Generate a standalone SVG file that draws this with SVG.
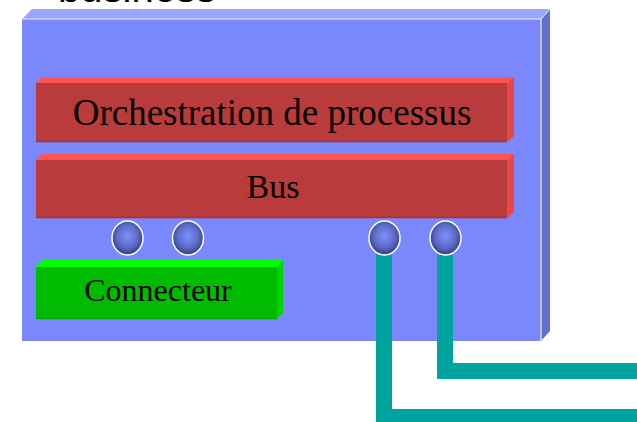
<svg xmlns="http://www.w3.org/2000/svg" width="637" height="422" viewBox="0 0 637 422">
<style>
.serif{font-family:"Liberation Serif","Times New Roman",serif;fill:#000}
.sans{font-family:"Liberation Sans",Arial,sans-serif;fill:#000}
.rf{fill:#b93b3b}.rt{fill:#ff5252}.rs{fill:#e54848}
.gf{fill:#00bb00}.gt{fill:#00ff00}.gs{fill:#00d400}
.bf{fill:#7a88fb}.bt{fill:#9aa5fd}.bs{fill:#6470cc}
.wire{fill:none;stroke:#00a49f;stroke-width:16;stroke-linejoin:miter}
.port{fill:url(#pg);stroke:#ffffff;stroke-width:1.5}
</style>
<defs>
<radialGradient id="pg" cx="0.5" cy="0.45" r="0.55">
<stop offset="0" stop-color="#7f92ff"/>
<stop offset="0.6" stop-color="#5d6cc8"/>
<stop offset="1" stop-color="#333c80"/>
</radialGradient>
</defs>
<rect width="637" height="422" fill="#ffffff"/>
<g id="business-label">
<text class="sans" x="58" y="2" font-size="40">business</text>
</g>
<g id="system">
<polygon class="bt" points="22,19 32,9 550,9 541,19"/>
<polygon class="bs" points="541,19 550,9 550,331 541,341"/>
<rect class="bf" x="22" y="19" width="519" height="322"/>
<polyline points="22,19 541,19 541,341" fill="none" stroke="#eef0ff" stroke-width="1.2"/>
<line x1="541" y1="19" x2="550" y2="9" stroke="#eef0ff" stroke-width="1"/>
</g>
<g id="orchestration">
<polygon class="rt" points="36,83 42,77 514,77 507,83"/>
<polygon class="rs" points="507,83 514,77 514,136 507,142"/>
<rect class="rf" x="36" y="83" width="471" height="59"/>
<line x1="36" y1="141.5" x2="507" y2="141.5" stroke="#a83333" stroke-width="1.5"/>
<text class="serif" x="272" y="125" font-size="37" text-anchor="middle">Orchestration de processus</text>
</g>
<g id="bus">
<polygon class="rt" points="36,160 42,154 514,154 507,160"/>
<polygon class="rs" points="507,160 514,154 514,212 507,218"/>
<rect class="rf" x="36" y="160" width="471" height="58"/>
<line x1="36" y1="217.5" x2="507" y2="217.5" stroke="#a83333" stroke-width="1.5"/>
<text class="serif" x="273" y="198" font-size="34" text-anchor="middle">Bus</text>
</g>
<g id="connecteur">
<polygon class="gt" points="36,267 42,260 283,260 277,267"/>
<polygon class="gs" points="277,267 283,260 283,313 277,319"/>
<rect class="gf" x="36" y="267" width="241" height="52"/>
<line x1="36" y1="318.5" x2="277" y2="318.5" stroke="#00a800" stroke-width="1.5"/>
<text class="serif" x="158" y="301" font-size="32" text-anchor="middle">Connecteur</text>
</g>
<g id="connectors">
<polyline class="wire" points="384,245 384,417 650,417"/>
<polyline class="wire" points="445,245 445,371 650,371"/>
</g>
<g id="port1"><ellipse class="port" cx="127.5" cy="238" rx="15.5" ry="17"/></g>
<g id="port2"><ellipse class="port" cx="188" cy="238" rx="15.5" ry="17"/></g>
<g id="port3"><ellipse class="port" cx="384.5" cy="238" rx="15.5" ry="17"/></g>
<g id="port4"><ellipse class="port" cx="445.5" cy="238" rx="15.5" ry="17"/></g>
</svg>
